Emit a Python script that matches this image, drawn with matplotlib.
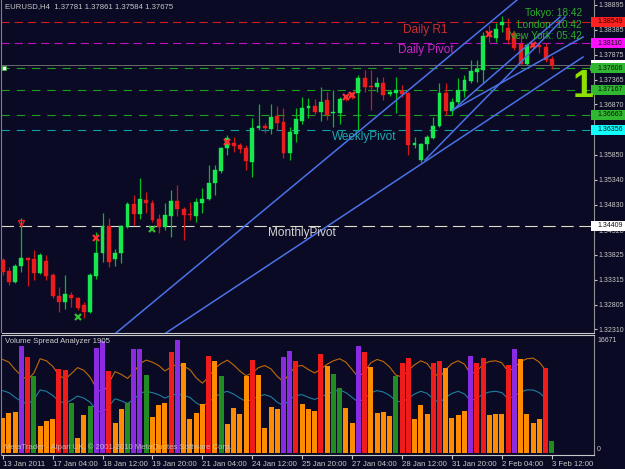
import numpy as np
import matplotlib
matplotlib.use("Agg")
import matplotlib.pyplot as plt
from matplotlib.patches import Rectangle
import matplotlib.transforms as mtransforms

plt.rcParams["font.family"] = ["Liberation Sans", "DejaVu Sans"]
plt.rcParams["lines.scale_dashes"] = False

# ---- Datos del grafico (EURUSD H4) ----
chart_title = "EURUSD,H4  1.37781 1.37861 1.37584 1.37675"

opens = [1.33714, 1.33491, 1.33268, 1.33593, 1.33755, 1.33735, 1.33451, 1.33694, 1.33410, 1.32984,
         1.32862, 1.33004, 1.32944, 1.32802, 1.32660, 1.33390, 1.33856, 1.34404, 1.33735, 1.33856,
         1.34383, 1.34850, 1.34647, 1.34931, 1.34870, 1.34546, 1.34383, 1.34607, 1.34911, 1.34749,
         1.34647, 1.34607, 1.34870, 1.34951, 1.35276, 1.35519, 1.35986, 1.36087, 1.36046, 1.35986,
         1.35702, 1.36391, 1.36432, 1.36371, 1.36635, 1.36513, 1.35884, 1.36270, 1.36533, 1.36797,
         1.36837, 1.36716, 1.36959, 1.36695, 1.36695, 1.37020, 1.37081, 1.37101, 1.37405, 1.37243,
         1.37223, 1.37304, 1.37081, 1.37101, 1.37141, 1.37101, 1.36046, 1.35742, 1.36067, 1.36188,
         1.36432, 1.37101, 1.36736, 1.36918, 1.37141, 1.37344, 1.37527, 1.37567, 1.38318, 1.38216,
         1.38480, 1.38419, 1.38318, 1.38095, 1.37689, 1.38095, 1.38074, 1.38034, 1.37781]
highs = [1.33755, 1.33572, 1.33633, 1.34566, 1.33775, 1.33917, 1.33856, 1.33816, 1.33451, 1.33167,
         1.33410, 1.33065, 1.32964, 1.32862, 1.33451, 1.34282, 1.34667, 1.34566, 1.33937, 1.34424,
         1.34890, 1.35032, 1.35377, 1.35093, 1.34931, 1.34647, 1.34870, 1.35134, 1.35235, 1.34789,
         1.34890, 1.34972, 1.35174, 1.35641, 1.35641, 1.36006, 1.36249, 1.36209, 1.36087, 1.36046,
         1.36594, 1.36878, 1.36493, 1.36878, 1.36837, 1.36797, 1.36411, 1.36797, 1.37020, 1.37000,
         1.36979, 1.37223, 1.37121, 1.37162, 1.37020, 1.37060, 1.37121, 1.37466, 1.37567, 1.37567,
         1.37425, 1.37425, 1.37162, 1.37425, 1.37263, 1.37121, 1.36209, 1.36087, 1.36249, 1.36614,
         1.37304, 1.37304, 1.37000, 1.37405, 1.37466, 1.37770, 1.37770, 1.38338, 1.38480, 1.38521,
         1.38663, 1.38622, 1.38358, 1.38277, 1.38115, 1.38135, 1.38115, 1.38115, 1.37861]
lows = [1.33410, 1.33207, 1.33248, 1.33471, 1.33187, 1.33309, 1.33430, 1.33309, 1.32944, 1.32660,
        1.32721, 1.32761, 1.32700, 1.32538, 1.32639, 1.33329, 1.33674, 1.33572, 1.33593, 1.33653,
        1.34363, 1.34424, 1.34546, 1.34667, 1.34485, 1.34262, 1.34323, 1.34181, 1.34607, 1.34120,
        1.34525, 1.34485, 1.34667, 1.34931, 1.35032, 1.35479, 1.35844, 1.35904, 1.35884, 1.35539,
        1.35397, 1.36351, 1.36290, 1.36270, 1.36351, 1.35783, 1.35742, 1.36107, 1.36472, 1.36594,
        1.36675, 1.36533, 1.36553, 1.36411, 1.36472, 1.36939, 1.36979, 1.36351, 1.37121, 1.36756,
        1.37121, 1.36959, 1.37040, 1.36695, 1.37020, 1.35844, 1.35986, 1.35702, 1.35945, 1.36168,
        1.36411, 1.36655, 1.36655, 1.36878, 1.37020, 1.37304, 1.37324, 1.37304, 1.38135, 1.38135,
        1.38338, 1.38095, 1.37973, 1.37669, 1.37669, 1.37973, 1.37912, 1.37730, 1.37584]
closes = [1.33471, 1.33268, 1.33593, 1.33755, 1.33714, 1.33451, 1.33816, 1.33390, 1.32984, 1.32862,
          1.33025, 1.32944, 1.32741, 1.32660, 1.33410, 1.33856, 1.34404, 1.33674, 1.33856, 1.34404,
          1.34850, 1.34647, 1.34951, 1.34870, 1.34525, 1.34383, 1.34627, 1.34911, 1.34749, 1.34627,
          1.34627, 1.34890, 1.34951, 1.35276, 1.35539, 1.35986, 1.36188, 1.36026, 1.35965, 1.35722,
          1.36391, 1.36432, 1.36391, 1.36614, 1.36493, 1.35884, 1.36310, 1.36574, 1.36797, 1.36837,
          1.36716, 1.36918, 1.36655, 1.36716, 1.36979, 1.36979, 1.37020, 1.37405, 1.37223, 1.37223,
          1.37304, 1.37060, 1.37121, 1.37162, 1.37081, 1.36046, 1.36087, 1.36067, 1.36209, 1.36432,
          1.37101, 1.36736, 1.36918, 1.37162, 1.37365, 1.37547, 1.37588, 1.38257, 1.38257, 1.38399,
          1.38541, 1.38176, 1.38014, 1.37689, 1.38074, 1.38034, 1.38034, 1.37770, 1.37675]

volumes = [5160, 5900, 6050, 15780, 14160, 11360, 3980, 4720, 5020, 12390,
           12240, 7380, 2210, 5610, 6930, 15490, 16520, 12100, 4430, 6490,
           7380, 15340, 15340, 11510, 5310, 7080, 7380, 14900, 16671, 13280,
           5020, 5900, 7230, 14310, 13570, 11360, 4280, 6640, 5750, 11360,
           13720, 11510, 3690, 6790, 6490, 14160, 15050, 13570, 7230, 6490,
           6200, 14600, 12830, 11650, 9590, 6640, 4430, 15780, 14900, 12690,
           5900, 6050, 5460, 11360, 13280, 14010, 5020, 7080, 5750, 13280,
           13570, 12540, 5160, 5610, 6200, 14310, 13280, 14010, 5610, 5750,
           5750, 12980, 15340, 13870, 5750, 4430, 5020, 12540, 1770]
# O = normal, R = alto, G = bajo/verde, P = climax
volume_class = ("OOOPRGOOOR" "RGOOGPPROO" "GPPGOOORPO" "OOOROGOOOO" "ROOOOPPROO"
                "OROGGOOPRO" "OOOGRROOOR" "ROOOOPRROO" "ORPOOOORG")

avg_volume_high = [13800, 13400, 12300, 11400, 10800, 11800, 13900, 13600, 12800, 11500,
                   10900, 11700, 12600, 12200, 11200, 9600, 8800, 10300, 12000, 11600,
                   11000, 11900, 13200, 13700, 13400, 12900, 12100, 12700, 13100, 12800,
                   12300, 11100, 10300, 11200, 12500, 13200, 13700, 13000, 12100, 11400,
                   11800, 12600, 12900, 12400, 11300, 10500, 11800, 12800, 12900, 12300,
                   11800, 12400, 13100, 13600, 13900, 13400, 12300, 11200, 12000, 13300,
                   13800, 13500, 12700, 11500, 11200, 12200, 13000, 13600, 13200, 12000,
                   11100, 12300, 13200, 13600, 13100, 11600, 12100, 13100, 13500, 13600,
                   13300, 12000, 12600, 13500, 13900, 14000, 13400, 12200]
avg_volume_low = [9200, 8900, 8200, 7600, 7200, 7900, 9300, 9100, 8500, 7700,
                  7300, 7800, 8400, 8100, 7500, 6400, 5900, 6900, 8000, 7700,
                  7300, 7900, 8800, 9100, 8900, 8600, 8100, 8500, 8700, 8500,
                  8200, 7400, 6900, 7500, 8300, 8800, 9100, 8700, 8100, 7600,
                  7900, 8400, 8600, 8300, 7500, 7000, 7900, 8500, 8600, 8200,
                  7900, 8300, 8700, 9100, 9300, 8900, 8200, 7500, 8000, 8900,
                  9200, 9000, 8500, 7700, 7500, 8100, 8700, 9100, 8800, 8000,
                  7400, 8200, 8800, 9100, 8700, 7700, 8100, 8700, 9000, 9100,
                  8900, 8000, 8400, 9000, 9300, 9300, 8900, 8100]
volume_max_label = "16671"

time_tick_bars = [0, 8, 16, 24, 32, 40, 48, 56, 64, 72, 80, 88]
time_labels = ["13 Jan 2011", "17 Jan 04:00", "18 Jan 12:00", "19 Jan 20:00", "21 Jan 04:00",
               "24 Jan 12:00", "25 Jan 20:00", "27 Jan 04:00", "28 Jan 12:00", "31 Jan 20:00",
               "2 Feb 04:00", "3 Feb 12:00"]
price_ticks = [1.38895, 1.38385, 1.37875, 1.37365, 1.36870, 1.36360, 1.35850,
               1.35340, 1.34830, 1.34320, 1.33825, 1.33315, 1.32805, 1.32310]
# etiquetas que quedan tapadas por los recuadros de nivel
hidden_ticks = [1.36360]

# niveles de pivote
level_values = [1.38549, 1.38110, 1.37606, 1.37167, 1.36663, 1.36356, 1.34409]
level_names = ["Daily R1", "Daily Pivot", "", "", "", "WeeklyPivot", "MonthlyPivot"]
level_label_bar = [64.2, 63.4, 0, 0, 0, 52.8, 42.5]
level_label_price = [1.38379, 1.37973, 0, 0, 0, 1.36209, 1.34262]
bid_price = 1.37675

# lineas de tendencia: (barra inicio, precio inicio, barra fin, precio fin)
trend_x0 = [18.16, 26.16, 67.68, 72.16, 72.16]
trend_y0 = [1.32234, 1.32234, 1.35742, 1.36756, 1.36756]
trend_x1 = [82.42, 93.00, 90.11, 89.31, 93.00]
trend_y1 = [1.38987, 1.37831, 1.38642, 1.38642, 1.38237]

# marcas VSA
red_mark_bars = [15, 36, 55, 56, 78, 85]
red_mark_prices = [1.34161, 1.36108, 1.37020, 1.37061, 1.38298, 1.38075]
green_mark_bars = [12, 24]
green_mark_prices = [1.32557, 1.34343]
arrow_bar = [3]
arrow_price = [1.34465]

sessions = ["Tokyo: 18:42", "London: 10:42", "New York: 05:42"]

# ---- Estilo ----
bg = "#0a0a24"
W, H = 625, 469
fs = 5.6     # texto pequeno general
fs_px = 5.0  # etiquetas del eje de precios


def fx(px):
    return px / W


def fy(py):
    return 1 - py / H


fig = plt.figure(figsize=(6.25, 4.69), dpi=100, facecolor=bg)
ax = fig.add_axes([fx(1.5), fy(332.5), fx(594) - fx(1.5), fy(0.5) - fy(332.5)])
axv = fig.add_axes([fx(1.5), fy(455), fx(594) - fx(1.5), fy(334.5) - fy(455)], sharex=ax)

for a in (ax, axv):
    a.set_facecolor(bg)
    a.spines["left"].set_color("#808080")
    a.spines["right"].set_color("#909090")
ax.spines["top"].set_visible(False)
ax.spines["bottom"].set_color("#c8c8c8")
axv.spines["top"].set_color("#c8c8c8")
axv.spines["bottom"].set_color("#c8c8c8")

ax.set_xlim(-0.19, 94.76)
ax.set_ylim(1.32244, 1.38977)
axv.set_ylim(-295, 17479)

# ---- Niveles ----
line_cols = ["#d41c1c", "#c010c0", "#209c20", "#209c20", "#209c20", "#10a0a8", "#e0dcc8"]
box_cols = ["#ff2020", "#ff10ff", "#30b830", "#30b830", "#30b830", "#10ffff", "#ffffff"]
dash_pat = [(6, 3.5), (6, 3.5), (6, 5), (6, 5), (6, 5), (6, 5), (9, 4)]
for v, c, d in zip(level_values, line_cols, dash_pat):
    ax.axhline(v, color=c, lw=0.8, dashes=d, zorder=2)
ax.axhline(bid_price, color="#6a6a6a", lw=0.7, zorder=2)

label_cols = ["#c83030", "#c828c8", "", "", "", "#20a8b0", "#d4d4d4"]
for name, xb, yp, c in zip(level_names, level_label_bar, level_label_price, label_cols):
    if name:
        ax.text(xb, yp, name, color=c, fontsize=8.5, ha="left", va="center", zorder=7)

# ---- Velas ----
idx = np.arange(len(opens))
o = np.array(opens)
hi = np.array(highs)
lo = np.array(lows)
c = np.array(closes)
up = c >= o
body_lo = np.minimum(o, c)
body_h = np.maximum(np.abs(c - o), 0.00007)

ax.vlines(idx[up], lo[up], hi[up], color="#00c020", lw=0.9, zorder=4)
ax.vlines(idx[~up], lo[~up], hi[~up], color="#d01818", lw=0.9, zorder=4)
ax.bar(idx[up], body_h[up], bottom=body_lo[up], width=0.62, color="#18e850",
       edgecolor="#18e850", lw=0.3, zorder=5)
ax.bar(idx[~up], body_h[~up], bottom=body_lo[~up], width=0.62, color="#ec1c1c",
       edgecolor="#ec1c1c", lw=0.3, zorder=5)

ax.plot(red_mark_bars, red_mark_prices, "x", color="#ff3030", ms=4.5, mew=1.6, zorder=6)
ax.plot(green_mark_bars, green_mark_prices, "x", color="#30c030", ms=4.5, mew=1.6, zorder=6)
ax.plot(arrow_bar, arrow_price, "v", mfc="none", mec="#e02020", ms=5, mew=1.0, zorder=6)

# ---- Lineas de tendencia ----
for x0, y0, x1, y1 in zip(trend_x0, trend_y0, trend_x1, trend_y1):
    ax.plot([x0, x1], [y0, y1], color="#4a72e8", lw=1.1, zorder=6)

# marcadores del nivel verde superior
blend = mtransforms.blended_transform_factory(ax.transAxes, ax.transData)
ax.plot([0.004, 0.997], [level_values[2]] * 2, "s", ms=2.6, color="white", mec="#30b830",
        mew=0.5, transform=blend, clip_on=False, zorder=8, ls="none")

# ---- Eje de precios ----
ax.tick_params(axis="x", bottom=False, labelbottom=False)
ax.yaxis.tick_right()
ax.set_yticks(price_ticks)
ax.set_yticklabels(["" if p in hidden_ticks else f"{p:.5f}" for p in price_ticks])
ax.tick_params(axis="y", direction="out", length=2.5, width=0.8, colors="#c8c8c8",
               labelsize=fs_px, pad=0.8)

box_h = 0.00205
x_box = (591 - 1.5) / 592.5
x_txt = (597.5 - 1.5) / 592.5
# recuadro del precio bid (casi tapado por el nivel verde)
ax.add_patch(Rectangle((x_box, bid_price - box_h / 2), 0.07, box_h, transform=blend,
                       facecolor="#ffffff", edgecolor="none", clip_on=False, zorder=9))
for v, bc in zip(level_values, box_cols):
    ax.add_patch(Rectangle((x_box, v - box_h / 2), 0.07, box_h, transform=blend,
                           facecolor=bc, edgecolor="none", clip_on=False, zorder=9))
    ax.text(x_txt, v, f"{v:.5f}", transform=blend, fontsize=fs_px,
            color="#101010", va="center", ha="left", zorder=10, clip_on=False)

# ---- Textos ----
fig.text(fx(5), fy(7), chart_title, color="#c8c8c8", fontsize=fs, va="center", ha="left")
for k, s in enumerate(sessions):
    fig.text(fx(582), fy(13 + 11.5 * k), s, color="#2cae2c", fontsize=7.3, ha="right", va="center")
fig.text(fx(583), fy(87), "1", color="#8ee000", fontsize=27, fontweight="bold",
         ha="center", va="center")

# ---- Panel de volumen ----
vcols = {"O": "#ff8c00", "R": "#f01c1c", "G": "#228b22", "P": "#8a2be2"}
axv.plot(idx[:len(avg_volume_high)], avg_volume_high, color="#c06a08", lw=0.8, zorder=2)
axv.plot(idx[:len(avg_volume_low)], avg_volume_low, color="#1e7ea0", lw=0.8, zorder=2)
axv.bar(idx, volumes, width=0.8, color=[vcols[k] for k in volume_class], zorder=3)

axv.tick_params(axis="y", left=False, right=False, labelleft=False)
axv.set_xticks(time_tick_bars)
axv.set_xticklabels(time_labels)
axv.tick_params(axis="x", direction="out", length=3, width=0.8, colors="#c8c8c8",
                labelsize=fs, pad=1.5)
for lbl in axv.get_xticklabels():
    lbl.set_ha("left")

fig.text(fx(5), fy(341), "Volume Spread Analyzer 1905", color="#d0d0d0", fontsize=fs, va="center")
fig.text(fx(4), fy(447), "MetaTrader - Alpari UK, \u00a9 2001-2010 MetaQuotes Software Corp.",
         color="#c8c8c8", fontsize=fs, va="center", alpha=0.85)
fig.text(fx(597), fy(340), volume_max_label, color="#c8c8c8", fontsize=fs_px, va="center")
fig.text(fx(597), fy(449), "0", color="#c8c8c8", fontsize=fs_px, va="center")

fig.savefig("out.png", dpi=100, facecolor=bg)
